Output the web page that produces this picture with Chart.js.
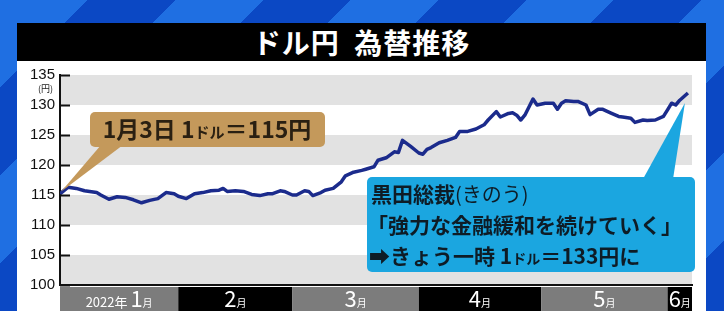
<!DOCTYPE html>
<html>
<head>
<meta charset="utf-8">
<script src="https://cdn.jsdelivr.net/npm/chart.js@4.4.0/dist/chart.umd.min.js"></script>
<style>
    html, body { margin: 0; padding: 0; }
    body {
        width: 724px; height: 311px; overflow: hidden; position: relative;
        background: repeating-linear-gradient(135deg, #1f6fe2 0 62px, #0b48c4 62px 124px);
        font-family: "Noto Sans CJK JP", sans-serif;
    }
    #card { position: absolute; left: 17px; top: 23px; width: 689px; height: 288px; background: #fff; }
    #title {
        height: 38px; background: #000; color: #fff; text-align: center;
        font-size: 28px; font-weight: bold; line-height: 38px; letter-spacing: 1px;
    }
    #wrap { position: relative; width: 689px; height: 250px; }
</style>
</head>
<body>
<div id="card">
    <div id="title">ドル円&nbsp;&nbsp;為替推移</div>
    <div id="wrap"><canvas id="fxChart"></canvas></div>
</div>
<script>
// ドル円 (2022)
const dates = [
    "1/3","1/5","1/7","1/9","1/12","1/13","1/15","1/17","1/19","1/21","1/23","1/25","1/27","1/29","1/31",
    "2/1","2/3","2/5","2/7","2/9","2/11","2/12","2/13","2/15","2/17","2/19","2/21","2/23","2/24","2/26","2/27",
    "3/1","3/2","3/4","3/5","3/6","3/8","3/9","3/11","3/13","3/14","3/16","3/18","3/19","3/21","3/22","3/24","3/26","3/27","3/28","3/30",
    "4/1","4/2","4/3","4/4","4/6","4/8","4/10","4/11","4/13","4/15","4/17","4/18","4/20","4/21","4/23","4/24","4/25","4/26","4/27","4/29","4/30",
    "5/2","5/4","5/5","5/6","5/7","5/9","5/10","5/12","5/13","5/15","5/16","5/18","5/20","5/21","5/23","5/24","5/26","5/27","5/29","5/31",
    "6/1","6/2","6/3","6/4","6/6"
];
const rates = [
    115.2,116.3,116.1,115.7,115.4,115.0,114.3,114.7,114.6,114.2,113.7,114.1,114.4,115.4,115.2,
    114.8,114.4,115.2,115.4,115.7,115.8,116.1,115.6,115.7,115.6,115.1,114.9,115.2,115.2,115.7,115.6,
    115.0,115.0,115.7,115.6,114.9,115.4,115.8,116.1,117.2,118.2,118.8,119.1,119.3,119.7,120.8,121.2,122.2,122.1,124.1,123.1,
    122.0,121.8,122.6,122.9,123.7,124.1,124.6,125.6,125.6,126.0,126.7,127.5,128.9,128.0,128.6,128.7,128.3,127.5,128.3,131.0,130.0,
    130.3,130.3,129.3,130.3,130.7,130.6,130.6,130.0,128.4,129.3,129.3,128.7,128.1,128.0,127.8,127.1,127.5,127.4,127.5,128.1,
    129.2,130.3,130.0,130.8,132.0
];
const monthLabels = ["1", "2", "3", "4", "5", "6"];
const yTicks = [100, 105, 110, 115, 120, 125, 130, 135];

const monthStart = [0, 31, 59, 90, 120, 151, 181];
const dayOf = md => {
    const [m, d] = md.split("/").map(Number);
    return monthStart[m - 1] + d - 1;
};
const firstDay = dayOf(dates[0]);
const lastDay = dayOf("6/7");

const JP = '"Noto Sans CJK JP", sans-serif';

function runsWidth(ctx, runs) {
    let w = 0;
    runs.forEach(([t, f]) => { ctx.font = f; w += ctx.measureText(t).width; });
    return w;
}
function drawRuns(ctx, runs, x, y) {
    runs.forEach(([t, f]) => {
        ctx.font = f;
        ctx.fillText(t, x, y);
        x += ctx.measureText(t).width;
    });
}
function bubble(ctx, x, y, w, h, r, color, tri) {
    ctx.fillStyle = color;
    ctx.beginPath();
    ctx.roundRect(x, y, w, h, r);
    ctx.fill();
    ctx.beginPath();
    ctx.moveTo(tri[0][0], tri[0][1]);
    ctx.lineTo(tri[1][0], tri[1][1]);
    ctx.lineTo(tri[2][0], tri[2][1]);
    ctx.closePath();
    ctx.fill();
}

const decor = {
    id: "decor",
    beforeDraw(chart) {
        const { ctx, chartArea: a, scales: { y } } = chart;
        ctx.save();
        ctx.fillStyle = "#e2e2e2";
        for (let v = 100; v < 135; v += 10) {
            const top = y.getPixelForValue(v + 5), bot = y.getPixelForValue(v);
            ctx.fillRect(a.left, top, a.right - a.left, bot - top);
        }
        ctx.restore();
    },
    afterDraw(chart) {
        const { ctx, chartArea: a, scales: { x, y } } = chart;
        ctx.save();

        // inward ticks
        ctx.strokeStyle = "#111";
        ctx.lineWidth = 2;
        yTicks.forEach(v => {
            const py = Math.round(y.getPixelForValue(v)) + 0.5;
            ctx.beginPath();
            ctx.moveTo(a.left, py);
            ctx.lineTo(a.left + 10, py);
            ctx.stroke();
        });
        ctx.fillStyle = "#222";
        ctx.font = `9px ${JP}`;
        ctx.textAlign = "right";
        ctx.fillText("(円)", a.left - 7, y.getPixelForValue(135) + 17);
        ctx.textAlign = "left";

        // month band
        const bandTop = a.bottom + 2, bandBot = chart.height;
        monthLabels.forEach((m, i) => {
            const x0 = x.getPixelForValue(Math.max(monthStart[i], firstDay));
            const x1 = x.getPixelForValue(Math.min(monthStart[i + 1], lastDay));
            ctx.fillStyle = i % 2 === 0 ? "#7c7c7c" : "#000";
            ctx.fillRect(x0, bandTop, x1 - x0, bandBot - bandTop);
            const runs = i === 0
                ? [["2022年 ", `13px ${JP}`], [m, `22px "Liberation Sans Narrow", ${JP}`], ["月", `10px ${JP}`]]
                : [[m, `22px "Liberation Sans Narrow", ${JP}`], ["月", `10px ${JP}`]];
            const w = runsWidth(ctx, runs);
            ctx.fillStyle = "#fff";
            drawRuns(ctx, runs, (x0 + x1) / 2 - w / 2, bandBot - 4);
        });

        // 1月3日 callout
        const p0x = x.getPixelForValue(firstDay), p0y = y.getPixelForValue(rates[0]);
        bubble(ctx, 73, 51, 235, 35, 5, "#c4995b",
            [[84, 84], [106, 84], [p0x + 1, p0y - 2]]);
        ctx.fillStyle = "#2a2012";
        const b = `bold 23px ${JP}`, s = `bold 15px ${JP}`;
        const goldRuns = [["1月3日 1", b], ["ドル", s], ["＝115円", b]];
        drawRuns(ctx, goldRuns, 190 - runsWidth(ctx, goldRuns) / 2, 77);

        // 黒田総裁 callout
        const n = rates.length - 1;
        const pnx = x.getPixelForValue(dayOf(dates[n])), pny = y.getPixelForValue(rates[n]);
        bubble(ctx, 350, 116, 328, 95, 5, "#1ba6e0",
            [[626, 118], [656, 118], [pnx - 3, pny + 10]]);
        ctx.fillStyle = "#0e1c26";
        const B = `bold 21px ${JP}`;
        drawRuns(ctx, [["黒田総裁", B], ["(きのう)", `20px ${JP}`]], 354, 141);
        drawRuns(ctx, [["「強力な金融緩和を続けていく」", B]], 350, 172);
        drawRuns(ctx, [["➡きょう一時 1", B], ["ドル", `bold 14px ${JP}`], ["＝133円に", B]], 352, 203);

        ctx.restore();
    }
};

const ctx = document.getElementById("fxChart").getContext("2d");
new Chart(ctx, {
    type: "line",
    data: {
        datasets: [{
            data: dates.map((d, i) => ({ x: dayOf(d), y: rates[i] })),
            borderColor: "#1b2b8c",
            borderWidth: 3.5,
            pointRadius: 0,
            tension: 0,
            borderJoinStyle: "round"
        }]
    },
    options: {
        responsive: true,
        maintainAspectRatio: false,
        animation: false,
        layout: { padding: { left: 0, top: 14, right: 14, bottom: 26 } },
        plugins: { legend: { display: false }, tooltip: { enabled: false } },
        scales: {
            x: {
                type: "linear",
                min: firstDay,
                max: lastDay,
                afterFit: s => { s.height = 0; },
                ticks: { display: false },
                grid: { display: false, drawTicks: false },
                border: { display: true, color: "#111", width: 2 }
            },
            y: {
                min: 100,
                max: 135,
                afterFit: s => { s.width = 43; },
                afterBuildTicks: s => { s.ticks = yTicks.map(v => ({ value: v })); },
                ticks: {
                    padding: 5,
                    color: "#111",
                    font: { family: '"Liberation Sans", Arial, sans-serif', size: 15 }
                },
                grid: { display: false, drawTicks: false },
                border: { display: true, color: "#111", width: 2 }
            }
        }
    },
    plugins: [decor]
});
</script>
</body>
</html>
